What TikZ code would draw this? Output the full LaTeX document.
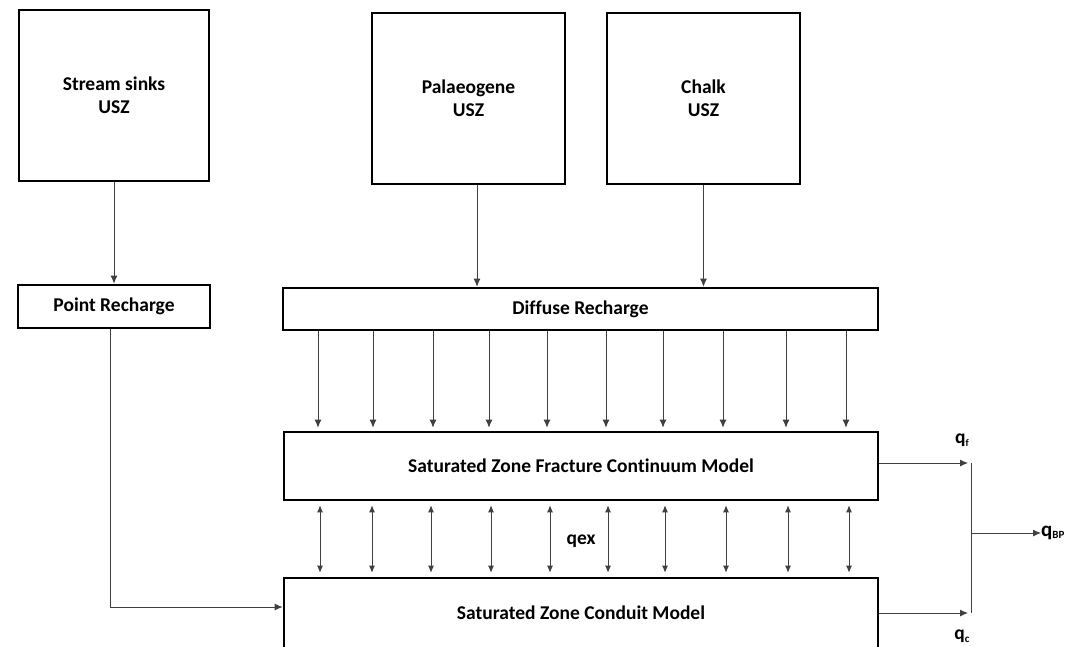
\documentclass[tikz,border=0pt]{standalone}
\usepackage{fontspec}
\setmainfont{Carlito}[Ligatures=NoCommon]
\usetikzlibrary{arrows.meta}
\begin{document}
\begin{tikzpicture}[x=1pt,y=-1pt,
 box/.style={draw, line width=2.6pt, font=\bfseries\fontsize{19.5}{23}\selectfont, align=center, inner sep=0pt},
 lbl/.style={font=\bfseries\fontsize{19.5}{20}\selectfont, inner sep=0pt},
 arr/.style={-{Latex[length=8pt,width=7pt]}, line width=0.9pt, draw=black!75},
 darr/.style={{Latex[length=7pt,width=6pt]}-{Latex[length=7pt,width=6pt]}, line width=0.9pt, draw=black!75}]
\useasboundingbox (0,0) rectangle (1079,646);
\clip (0,0) rectangle (1079,646);
\fill[white] (0,0) rectangle (1079,646);
% top boxes
\node[box, minimum width=190pt, minimum height=171pt] (ss) at (114,95.5) {Stream sinks\\USZ};
\node[box, minimum width=193pt, minimum height=171pt] (pal) at (468.5,98.5) {Palaeogene\\USZ};
\node[box, minimum width=193pt, minimum height=171pt] (chalk) at (703.5,98.5) {Chalk\\USZ};
% recharge boxes
\node[box, minimum width=192pt, minimum height=43pt] (pr) at (114,306.5) {Point Recharge};
\node[box, minimum width=595pt, minimum height=42pt] (dr) at (580.5,309) {Diffuse Recharge};
% models
\node[box, minimum width=594pt, minimum height=68pt] (fr) at (581,466) {Saturated Zone Fracture Continuum Model};
\node[box, minimum width=594pt, minimum height=70pt] (cd) at (581,613) {Saturated Zone Conduit Model};
% top arrows
\draw[arr] (ss.south) -- (pr.north);
\draw[arr] ([xshift=8.5pt]pal.south) -- ([xshift=8.5pt]pal.south |- dr.north);
\draw[arr] (chalk.south) -- (chalk.south |- dr.north);
% diffuse -> fracture
\foreach \x in {318,373,433,489,547,606,663,723,786,846}
  \draw[arr, shorten >=3pt] (\x,0 |- dr.south) -- (\x,0 |- fr.north);
% exchange
\foreach \x in {320,372,431,491,550,608,665,726,788,849}
  \draw[darr, shorten <=4pt, shorten >=4pt] (\x,0 |- fr.south) -- (\x,0 |- cd.north);
\node[lbl] (qex) at (581,541) {qex};
% point recharge -> conduit
\draw[arr] ([xshift=-4pt]pr.south) |- ([yshift=6pt]cd.west);
% outflows
\coordinate (jt) at (971,463);
\coordinate (jb) at (971,613);
\coordinate (jm) at (971,533);
\draw[arr] ([yshift=3pt]fr.east) -- ([xshift=-3pt]jt);
\draw[arr] (cd.east) -- ([xshift=-3pt]jb);
\draw[line width=0.9pt, draw=black!75] (jt) -- (jb);
\node[lbl, anchor=west] (qbp) at (1041,533) {\fontsize{21}{21}\selectfont q\raisebox{-0.2ex}{\fontsize{11}{11}\selectfont BP}};
\draw[arr] (jm) -- (qbp.west);
\node[lbl] (qf) at (962,440) {q\raisebox{-0.3ex}{\fontsize{10}{10}\selectfont f}};
\node[lbl] (qc) at (962,636) {q\raisebox{-0.3ex}{\fontsize{11}{11}\selectfont c}};
\end{tikzpicture}
\end{document}
